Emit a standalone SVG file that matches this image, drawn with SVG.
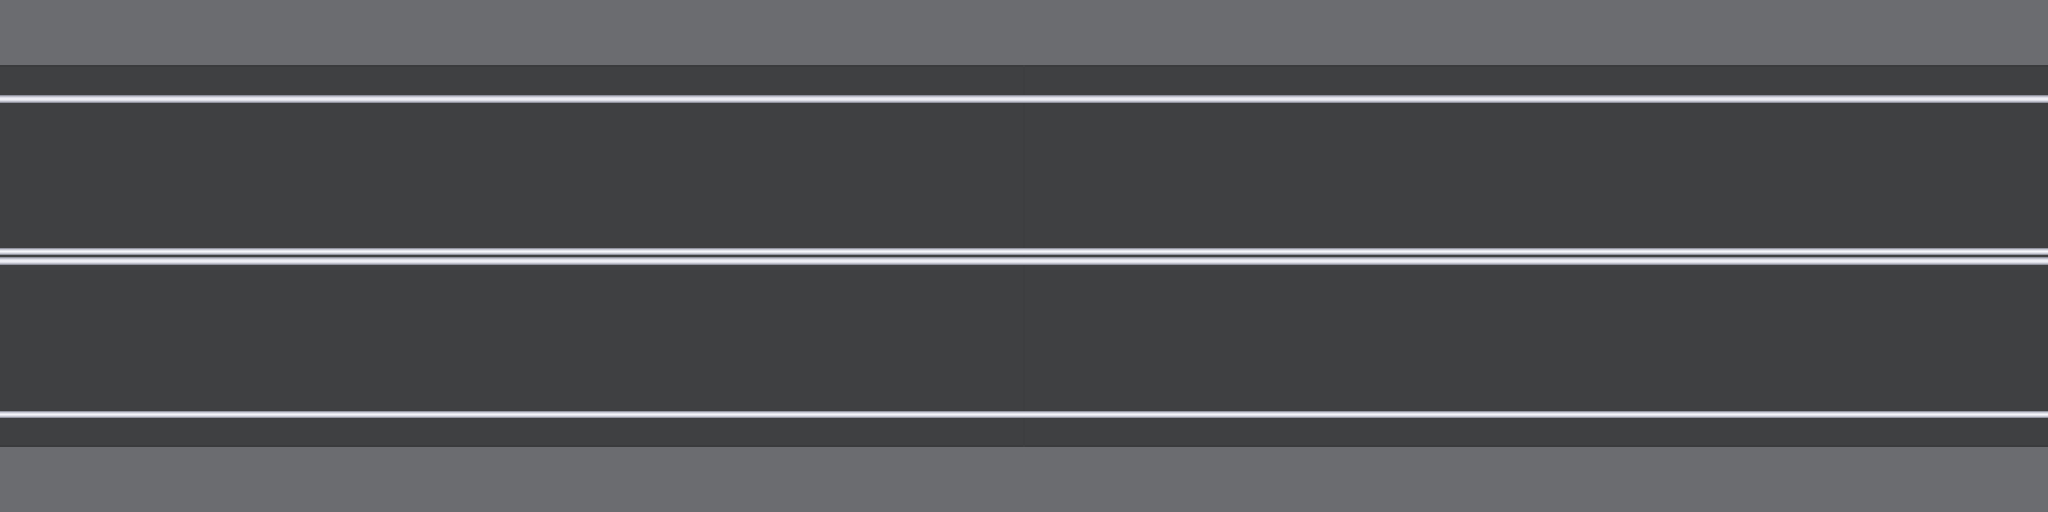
<svg xmlns="http://www.w3.org/2000/svg" width="2048" height="512" viewBox="0 0 2048 512">
  <defs>
    <linearGradient id="ln" x1="0" y1="0" x2="0" y2="1">
      <stop offset="0" stop-color="#7a7c88"/>
      <stop offset="0.25" stop-color="#d4d5e0"/>
      <stop offset="0.5" stop-color="#f6f6fb"/>
      <stop offset="0.75" stop-color="#d4d5e0"/>
      <stop offset="1" stop-color="#7a7c88"/>
    </linearGradient>
    <style>.line{fill:url(#ln)}</style>
  </defs>
  <rect x="0" y="0" width="2048" height="512" fill="#6b6c70"/>
  <rect x="0" y="65" width="2048" height="382" fill="#3f4042"/>
  <rect x="0" y="65" width="2048" height="2" fill="#3a3b3d"/>
  <rect x="0" y="445" width="2048" height="2" fill="#3a3b3d"/>
  <rect x="1023" y="65" width="2" height="382" fill="#3d3e40"/>
  <g id="markings">
    <rect class="line" x="0" y="95" width="2048" height="8"/>
    <rect class="line" x="0" y="248" width="2048" height="7"/>
    <rect class="line" x="0" y="257" width="2048" height="8"/>
    <rect class="line" x="0" y="411" width="2048" height="7"/>
  </g>
</svg>
